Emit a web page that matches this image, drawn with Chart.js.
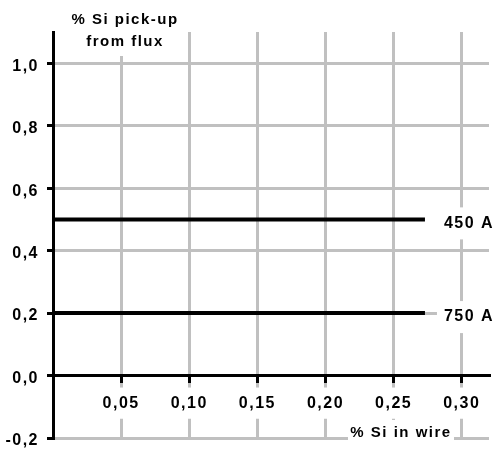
<!DOCTYPE html>
<html>
<head>
<meta charset="utf-8">
<script src="https://cdn.jsdelivr.net/npm/chart.js@4/dist/chart.umd.min.js"></script>
<style>
  html, body { margin: 0; padding: 0; background: #ffffff; }
  #wrap { width: 497px; height: 449px; position: relative; }
</style>
</head>
<body>
<div id="wrap"><canvas id="c" width="497" height="449"></canvas></div>
<script>
// ---- data ----
const wireSi = [0, 0.273];          // % Si in wire (x) — line start / end
const pickup450 = [0.5, 0.5];       // % Si pick-up at 450 A
const pickup750 = [0.2, 0.2];       // % Si pick-up at 750 A
const seriesNames = ['450 A', '750 A'];
const yTitleLines = ['% Si pick-up', 'from flux'];
const xTitle = '% Si in wire';

const FONT = '"Liberation Sans", Arial, Helvetica, sans-serif';
const GRID = '#c0c0c0';
const SPACING = '1.5px';

function pts(xs, ys) { return xs.map((x, i) => ({ x: x, y: ys[i] })); }
function comma(v, d) { return v.toFixed(d).replace('.', ','); }

const spacingPlugin = {
  id: 'spacing',
  beforeUpdate(chart) { chart.ctx.letterSpacing = SPACING; },
  beforeDraw(chart) { chart.ctx.letterSpacing = SPACING; }
};

function boxedText(ctx, text, x, y, font, align, rect) {
  ctx.save();
  ctx.fillStyle = '#ffffff';
  ctx.fillRect(rect[0], rect[1], rect[2], rect[3]);
  ctx.font = font;
  ctx.fillStyle = '#000000';
  ctx.textAlign = align;
  ctx.textBaseline = 'middle';
  ctx.fillText(text, x, y);
  ctx.restore();
}

const labelsPlugin = {
  id: 'labels',
  afterDraw(chart) {
    const ctx = chart.ctx;
    ctx.letterSpacing = SPACING;
    const xs = chart.scales.x, ys = chart.scales.y, ca = chart.chartArea;
    const f16 = 'bold 16px ' + FONT;
    const f15 = 'bold 15px ' + FONT;
    // series labels at the right end of each line
    const ends = [pickup450[pickup450.length - 1], pickup750[pickup750.length - 1]];
    const xEnd = xs.getPixelForValue(wireSi[wireSi.length - 1]);
    ends.forEach((v, i) => {
      const py = ys.getPixelForValue(v) + 4;
      boxedText(ctx, seriesNames[i], xEnd + 19, py, f16, 'left',
        [xEnd + 12, py - 16, 497 - xEnd - 12, 32]);
    });
    // y axis title (top)
    const cx = ca.left + 72;
    ctx.save();
    ctx.fillStyle = '#ffffff';
    ctx.fillRect(cx - 54, ca.top - 4, 108, 28);
    ctx.restore();
    boxedText(ctx, yTitleLines[0], cx, 20, f15, 'center', [0, 0, 0, 0]);
    boxedText(ctx, yTitleLines[1], cx, 42, f15, 'center', [0, 0, 0, 0]);
    // x axis title (bottom right)
    const bx = 401, by = ca.bottom - 5;
    boxedText(ctx, xTitle, bx, by, f15, 'center', [bx - 53, ca.bottom - 18, 106, 30]);
  }
};

function noPad(scale) {
  scale.paddingTop = 0; scale.paddingBottom = 0;
  scale.paddingLeft = 0; scale.paddingRight = 0;
}

new Chart(document.getElementById('c'), {
  type: 'line',
  data: {
    datasets: [
      { label: seriesNames[0], data: pts(wireSi, pickup450) },
      { label: seriesNames[1], data: pts(wireSi, pickup750) }
    ]
  },
  options: {
    responsive: false,
    animation: false,
    devicePixelRatio: 1,
    layout: { padding: { top: 32, right: 8, bottom: 11, left: 0 } },
    elements: {
      line: { borderColor: '#000000', borderWidth: 4, tension: 0, borderCapStyle: 'butt' },
      point: { radius: 0 }
    },
    plugins: { legend: { display: false }, tooltip: { enabled: false } },
    scales: {
      x: {
        type: 'linear',
        position: { y: 0 },
        min: 0,
        max: 0.32,
        afterBuildTicks(scale) { scale.ticks = scale.ticks.filter(t => t.value > 1e-9); },
        afterFit: noPad,
        grid: {
          color: GRID, lineWidth: 3, tickColor: '#000000', tickLength: 6, drawTicks: true
        },
        border: { color: '#000000', width: 3 },
        ticks: {
          stepSize: 0.05,
          includeBounds: false,
          color: '#000000',
          font: { family: FONT, size: 16, weight: 'bold' },
          padding: 12,
          maxRotation: 0,
          autoSkip: false,
          showLabelBackdrop: true,
          backdropColor: '#ffffff',
          backdropPadding: { top: 6, bottom: 6, left: 3, right: 3 },
          callback: v => comma(v, 2)
        }
      },
      y: {
        type: 'linear',
        position: 'left',
        min: -0.2,
        max: 1.1,
        afterFit(scale) { scale.width = 53; noPad(scale); },
        grid: {
          color: c => (c.tick && Math.abs(c.tick.value) < 1e-9) ? 'rgba(0,0,0,0)' : GRID,
          lineWidth: 3, tickColor: '#000000', tickLength: 6
        },
        border: { color: '#000000', width: 3 },
        ticks: {
          stepSize: 0.2,
          includeBounds: false,
          color: '#000000',
          font: { family: FONT, size: 16, weight: 'bold' },
          padding: 8,
          labelOffset: 3,
          callback: v => comma(v, 1)
        }
      }
    }
  },
  plugins: [spacingPlugin, labelsPlugin]
});
</script>
</body>
</html>
